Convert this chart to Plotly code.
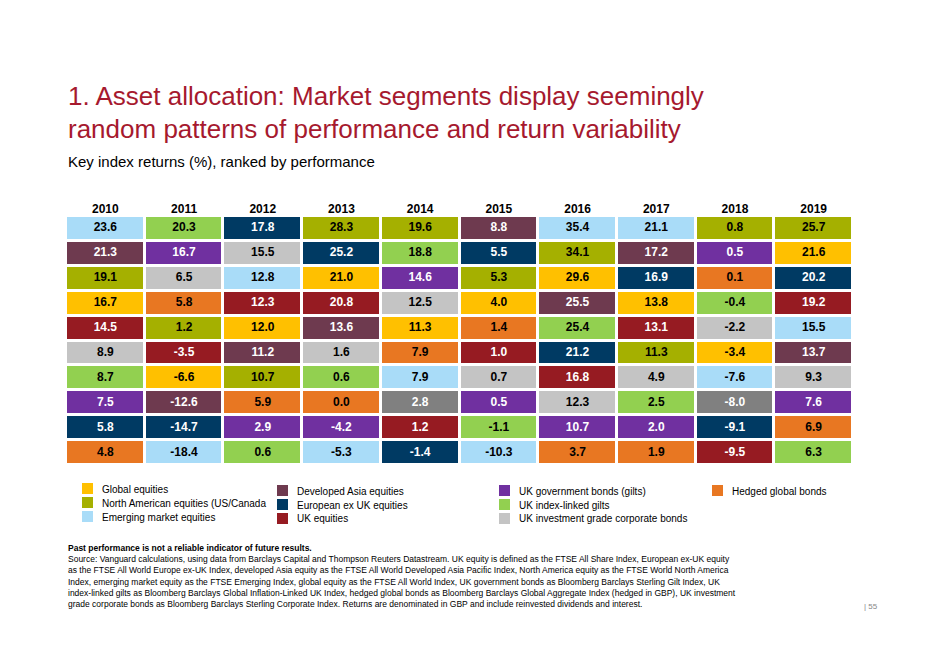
import plotly.graph_objects as go

years = ['2010', '2011', '2012', '2013', '2014', '2015', '2016', '2017', '2018', '2019']

# returns per year, ranked high to low
returns = [
    [23.6, 21.3, 19.1, 16.7, 14.5, 8.9, 8.7, 7.5, 5.8, 4.8],
    [20.3, 16.7, 6.5, 5.8, 1.2, -3.5, -6.6, -12.6, -14.7, -18.4],
    [17.8, 15.5, 12.8, 12.3, 12.0, 11.2, 10.7, 5.9, 2.9, 0.6],
    [28.3, 25.2, 21.0, 20.8, 13.6, 1.6, 0.6, 0.0, -4.2, -5.3],
    [19.6, 18.8, 14.6, 12.5, 11.3, 7.9, 7.9, 2.8, 1.2, -1.4],
    [8.8, 5.5, 5.3, 4.0, 1.4, 1.0, 0.7, 0.5, -1.1, -10.3],
    [35.4, 34.1, 29.6, 25.5, 25.4, 21.2, 16.8, 12.3, 10.7, 3.7],
    [21.1, 17.2, 16.9, 13.8, 13.1, 11.3, 4.9, 2.5, 2.0, 1.9],
    [0.8, 0.5, 0.1, -0.4, -2.2, -3.4, -7.6, -8.0, -9.1, -9.5],
    [25.7, 21.6, 20.2, 19.2, 15.5, 13.7, 9.3, 7.6, 6.9, 6.3],
]

# segment codes for each cell
segments = [
    'E A N G U C L B X H'.split(),
    'L B C H N U G A X E'.split(),
    'X C E U G A N H B L'.split(),
    'N X G U A C L H B E'.split(),
    'N L B C G H E D U X'.split(),
    'A X N G H U C B L E'.split(),
    'E N G A L X U C B H'.split(),
    'E A X G U N C L B H'.split(),
    'N B H L C G E D X U'.split(),
    'N G X U E A C B H L'.split(),
]

seg_codes = ['G', 'N', 'E', 'A', 'X', 'U', 'B', 'L', 'C', 'H', 'D']
seg_colors = {
    'G': '#FFC000', 'N': '#A5B000', 'E': '#A9DCF8', 'A': '#6E3A4F',
    'X': '#003A63', 'U': '#961B22', 'B': '#7030A0', 'L': '#92D050',
    'C': '#C4C4C4', 'H': '#E87722', 'D': '#808080',
}
dark = {'A', 'X', 'U', 'B', 'D'}

legend = [
    ('G', 'Global equities', 82, 489), ('N', 'North American equities (US/Canada', 82, 503),
    ('E', 'Emerging market equities', 82, 517),
    ('A', 'Developed Asia equities', 277, 491), ('X', 'European ex UK equities', 277, 505),
    ('U', 'UK equities', 277, 519),
    ('B', 'UK government bonds (gilts)', 499, 491), ('L', 'UK index-linked gilts', 499, 505),
    ('C', 'UK investment grade corporate bonds', 499, 519),
    ('H', 'Hedged global bonds', 712, 491),
]

W, H = 939, 662
OFF = 8  # page offset seen in the render
px = lambda x: (x - OFF) / W
py = lambda y: 1 - (y - OFF) / H

ranks = list(range(10))
n = len(seg_codes)
scale = []
for i, c in enumerate(seg_codes):
    scale.append([i / n, seg_colors[c]])
    scale.append([(i + 1) / n, seg_colors[c]])

z = [[seg_codes.index(segments[c][r]) + 0.5 for c in range(len(years))] for r in ranks]

fig = go.Figure(go.Heatmap(x=years, y=ranks, z=z, zmin=0, zmax=n, colorscale=scale,
                           showscale=False, xgap=3, ygap=3, hoverinfo='skip'))

for want_dark, col in [(True, 'white'), (False, 'black')]:
    xs, ys, ts = [], [], []
    for c, yr in enumerate(years):
        for r in ranks:
            if (segments[c][r] in dark) == want_dark:
                xs.append(yr)
                ys.append(r)
                ts.append('<b>%.1f</b>' % returns[c][r])
    fig.add_trace(go.Scatter(x=xs, y=ys, text=ts, mode='text', hoverinfo='skip',
                             textfont=dict(size=12, color=col, family='Liberation Sans')))

ann = []
shapes = []
ann.append(dict(x=px(66), y=py(96), text='1. Asset allocation: Market segments display seemingly',
                font=dict(size=26, color='#A6192E')))
ann.append(dict(x=px(66), y=py(129), text='random patterns of performance and return variability',
                font=dict(size=26, color='#A6192E')))
ann.append(dict(x=px(66), y=py(161), text='Key index returns (%), ranked by performance',
                font=dict(size=15, color='black')))
for code, label, x, y in legend:
    shapes.append(dict(type='rect', xref='paper', yref='paper', x0=px(x), x1=px(x + 11),
                       y0=py(y + 5), y1=py(y - 6), fillcolor=seg_colors[code], line=dict(width=0)))
    ann.append(dict(x=px(x + 18), y=py(y), text=label, font=dict(size=10, color='black')))
ann.append(dict(x=px(66), y=py(548), text='<b>Past performance is not a reliable indicator of future results.</b>',
                font=dict(size=8.5, color='black')))
source = [
    'Source: Vanguard calculations, using data from Barclays Capital and Thompson Reuters Datastream. UK equity is defined as the FTSE All Share Index, European ex-UK equity',
    'as the FTSE All World Europe ex-UK Index, developed Asia equity as the FTSE All World Developed Asia Pacific Index, North America equity as the FTSE World North America',
    'Index, emerging market equity as the FTSE Emerging Index, global equity as the FTSE All World Index, UK government bonds as Bloomberg Barclays Sterling Gilt Index, UK',
    'index-linked gilts as Bloomberg Barclays Global Inflation-Linked UK Index, hedged global bonds as Bloomberg Barclays Global Aggregate Index (hedged in GBP), UK investment',
    'grade corporate bonds as Bloomberg Barclays Sterling Corporate Index. Returns are denominated in GBP and include reinvested dividends and interest.',
]
for i, line in enumerate(source):
    ann.append(dict(x=px(66), y=py(559 + 11.3 * i), text=line, font=dict(size=8.5, color='black')))
ann.append(dict(x=px(862), y=py(606), text='| 55', font=dict(size=8, color='#888888')))
for a in ann:
    a.update(xref='paper', yref='paper', xanchor='left', yanchor='middle', showarrow=False)

fig.update_layout(width=W, height=H, margin=dict(l=0, r=0, t=0, b=0),
                  paper_bgcolor='white', plot_bgcolor='white',
                  font=dict(family='Liberation Sans'), showlegend=False,
                  annotations=ann, shapes=shapes)
fig.update_xaxes(domain=[px(66), px(853)], side='top', showgrid=False, zeroline=False,
                 tickvals=years, ticktext=['<b>%s</b>' % y for y in years],
                 tickfont=dict(size=12, color='black'), ticks='', fixedrange=True)
fig.update_yaxes(domain=[py(465), py(216)], autorange='reversed', visible=False,
                 showgrid=False, zeroline=False, fixedrange=True)
fig.write_html('out.html')
